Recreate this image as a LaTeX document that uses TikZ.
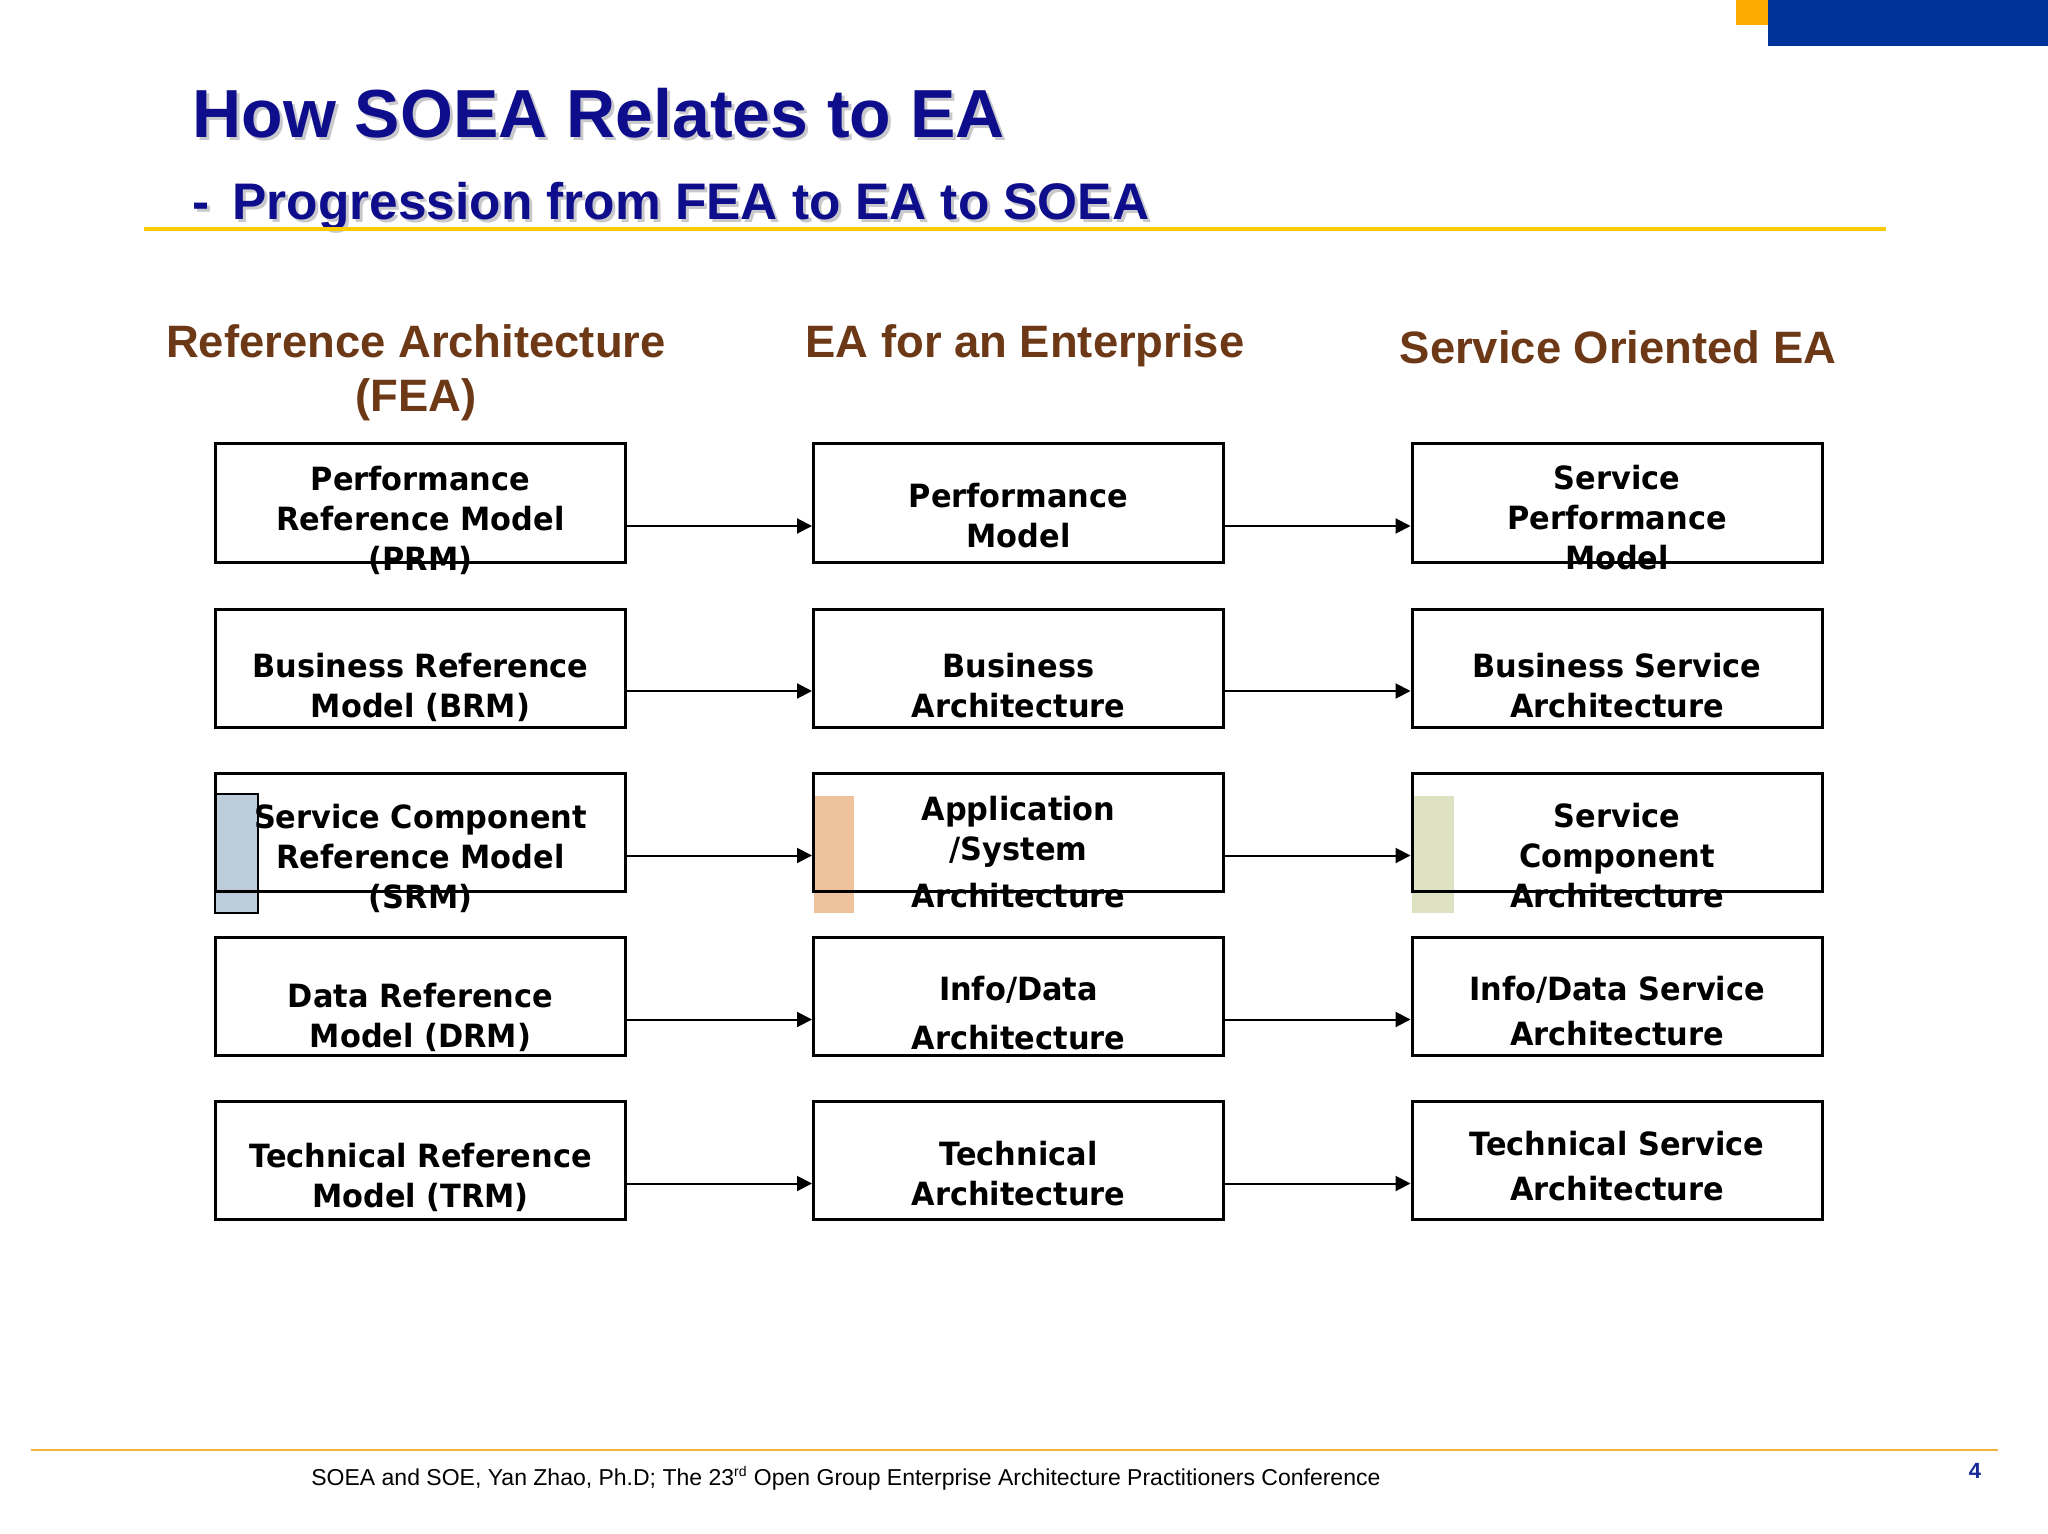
\documentclass[tikz,border=0pt]{standalone}
\usepackage{fontspec}
\setmainfont{Liberation Sans}
\newfontfamily\boxfont{DejaVu Sans}[FakeStretch=0.95]
\usetikzlibrary{arrows.meta}
\definecolor{titleblue}{RGB}{14,14,140}
\definecolor{shadowgray}{RGB}{200,200,205}
\definecolor{headbrown}{RGB}{108,56,22}
\definecolor{barblue}{RGB}{0,51,153}
\definecolor{barorange}{RGB}{255,170,0}
\definecolor{rulegold}{RGB}{250,204,0}
\definecolor{footline}{RGB}{240,180,60}
\definecolor{pageblue}{RGB}{20,40,150}
\definecolor{srmblue}{RGB}{188,204,218}
\definecolor{apppeach}{RGB}{237,194,157}
\definecolor{svcgreen}{RGB}{222,226,195}
\begin{document}
\begin{tikzpicture}[x=0.5pt,y=-0.5pt,
  box/.style={draw=black,line width=1.5pt,minimum width=205pt,minimum height=59pt,inner sep=0pt},
  lbl/.style={font=\boxfont\bfseries\fontsize{16}{20}\selectfont,align=center,anchor=base,inner sep=0pt},
  arr/.style={line width=1pt,-{Triangle[length=7.5pt,width=7.5pt]}},
  head/.style={font=\bfseries\fontsize{22.7}{27}\selectfont,text=headbrown,anchor=base,inner sep=0pt,align=center},
  ttl/.style={anchor=base west,inner sep=0pt,font=\bfseries\fontsize{34}{40}\selectfont},
  subttl/.style={anchor=base west,inner sep=0pt,font=\bfseries\fontsize{25.7}{30}\selectfont},
]
\useasboundingbox (0,0) rectangle (2048,1534);
\fill[white] (0,0) rectangle (2048,1534);

% top-right corner bars
\fill[barorange] (1736,0) rectangle (1768,25);
\fill[barblue] (1768,0) rectangle (2048,46);

% title with shadow
\node[ttl,text=shadowgray] (titlesh) at (195,141) {How SOEA Relates to EA};
\node[ttl,text=titleblue] (title) at (192,138) {How SOEA Relates to EA};
\node[subttl,text=shadowgray] (subsh) at (195,223) {-\hspace{0.45em}Progression from FEA to EA to SOEA};
\node[subttl,text=titleblue] (sub) at (192,220) {-\hspace{0.45em}Progression from FEA to EA to SOEA};
\fill[rulegold] (144,227) rectangle (1886,231);

% column headers
\node[head] (h1) at (416,412) {Reference Architecture\\[0pt](FEA)};
\node[head] (h2) at (1025,358) {EA for an Enterprise};
\node[head] (h3) at (1618,364) {Service Oriented EA};

% coloured markers of row 3
\filldraw[fill=srmblue,draw=black,line width=1pt] (215,794) rectangle (258,913);
\fill[apppeach] (814,796) rectangle (854,913);
\fill[svcgreen] (1412,796) rectangle (1454,913);

% boxes
\foreach \r/\y in {1/503,2/668,3/832.5,4/996.5,5/1160.5}{
  \node[box] (b\r1) at (420.5,\y) {};
  \node[box] (b\r2) at (1018.5,\y) {};
  \node[box] (b\r3) at (1617,\y) {};
  \draw[arr] ([yshift=-11.5pt]b\r1.east) -- ([yshift=-11.5pt]b\r2.west);
  \draw[arr] ([yshift=-11.5pt]b\r2.east) -- ([yshift=-11.5pt]b\r3.west);
}

% box texts (anchor base = baseline of the last line)
\node[lbl] (t11) at (420.5,570) {Performance\\Reference Model\\(PRM)};
\node[lbl] (t12) at (1018.5,547) {Performance\\Model};
\node[lbl] (t13) at (1617,569) {Service\\Performance\\Model};
\node[lbl] (t21) at (420.5,717) {Business Reference\\Model (BRM)};
\node[lbl] (t22) at (1018.5,717) {Business\\Architecture};
\node[lbl] (t23) at (1617,717) {Business Service\\Architecture};
\node[lbl] (t31) at (420.5,908) {Service Component\\Reference Model\\(SRM)};
\node[lbl] (t32) at (1018.5,907) {Application\\/System\\[3.5pt]Architecture};
\node[lbl] (t33) at (1617,907) {Service\\Component\\Architecture};
\node[lbl] (t41) at (420.5,1047) {Data Reference\\Model (DRM)};
\node[lbl] (t42) at (1018.5,1049) {Info/Data\\[4.5pt]Architecture};
\node[lbl] (t43) at (1617,1045) {Info/Data Service\\[2.5pt]Architecture};
\node[lbl] (t51) at (420.5,1207) {Technical Reference\\Model (TRM)};
\node[lbl] (t52) at (1018.5,1205) {Technical\\Architecture};
\node[lbl] (t53) at (1617,1200) {Technical Service\\[2.5pt]Architecture};

% footer
\fill[footline] (31,1449) rectangle (1998,1451);
\node[anchor=base west,inner sep=0pt,font=\fontsize{11.5}{13}\selectfont] (foot) at (311,1485)
  {SOEA and SOE, Yan Zhao, Ph.D; The 23\textsuperscript{\scriptsize rd} Open Group Enterprise Architecture Practitioners Conference};
\node[anchor=base,inner sep=0pt,font=\bfseries\fontsize{11}{13}\selectfont,text=pageblue] (pnum) at (1975,1478) {4};
\end{tikzpicture}
\end{document}
